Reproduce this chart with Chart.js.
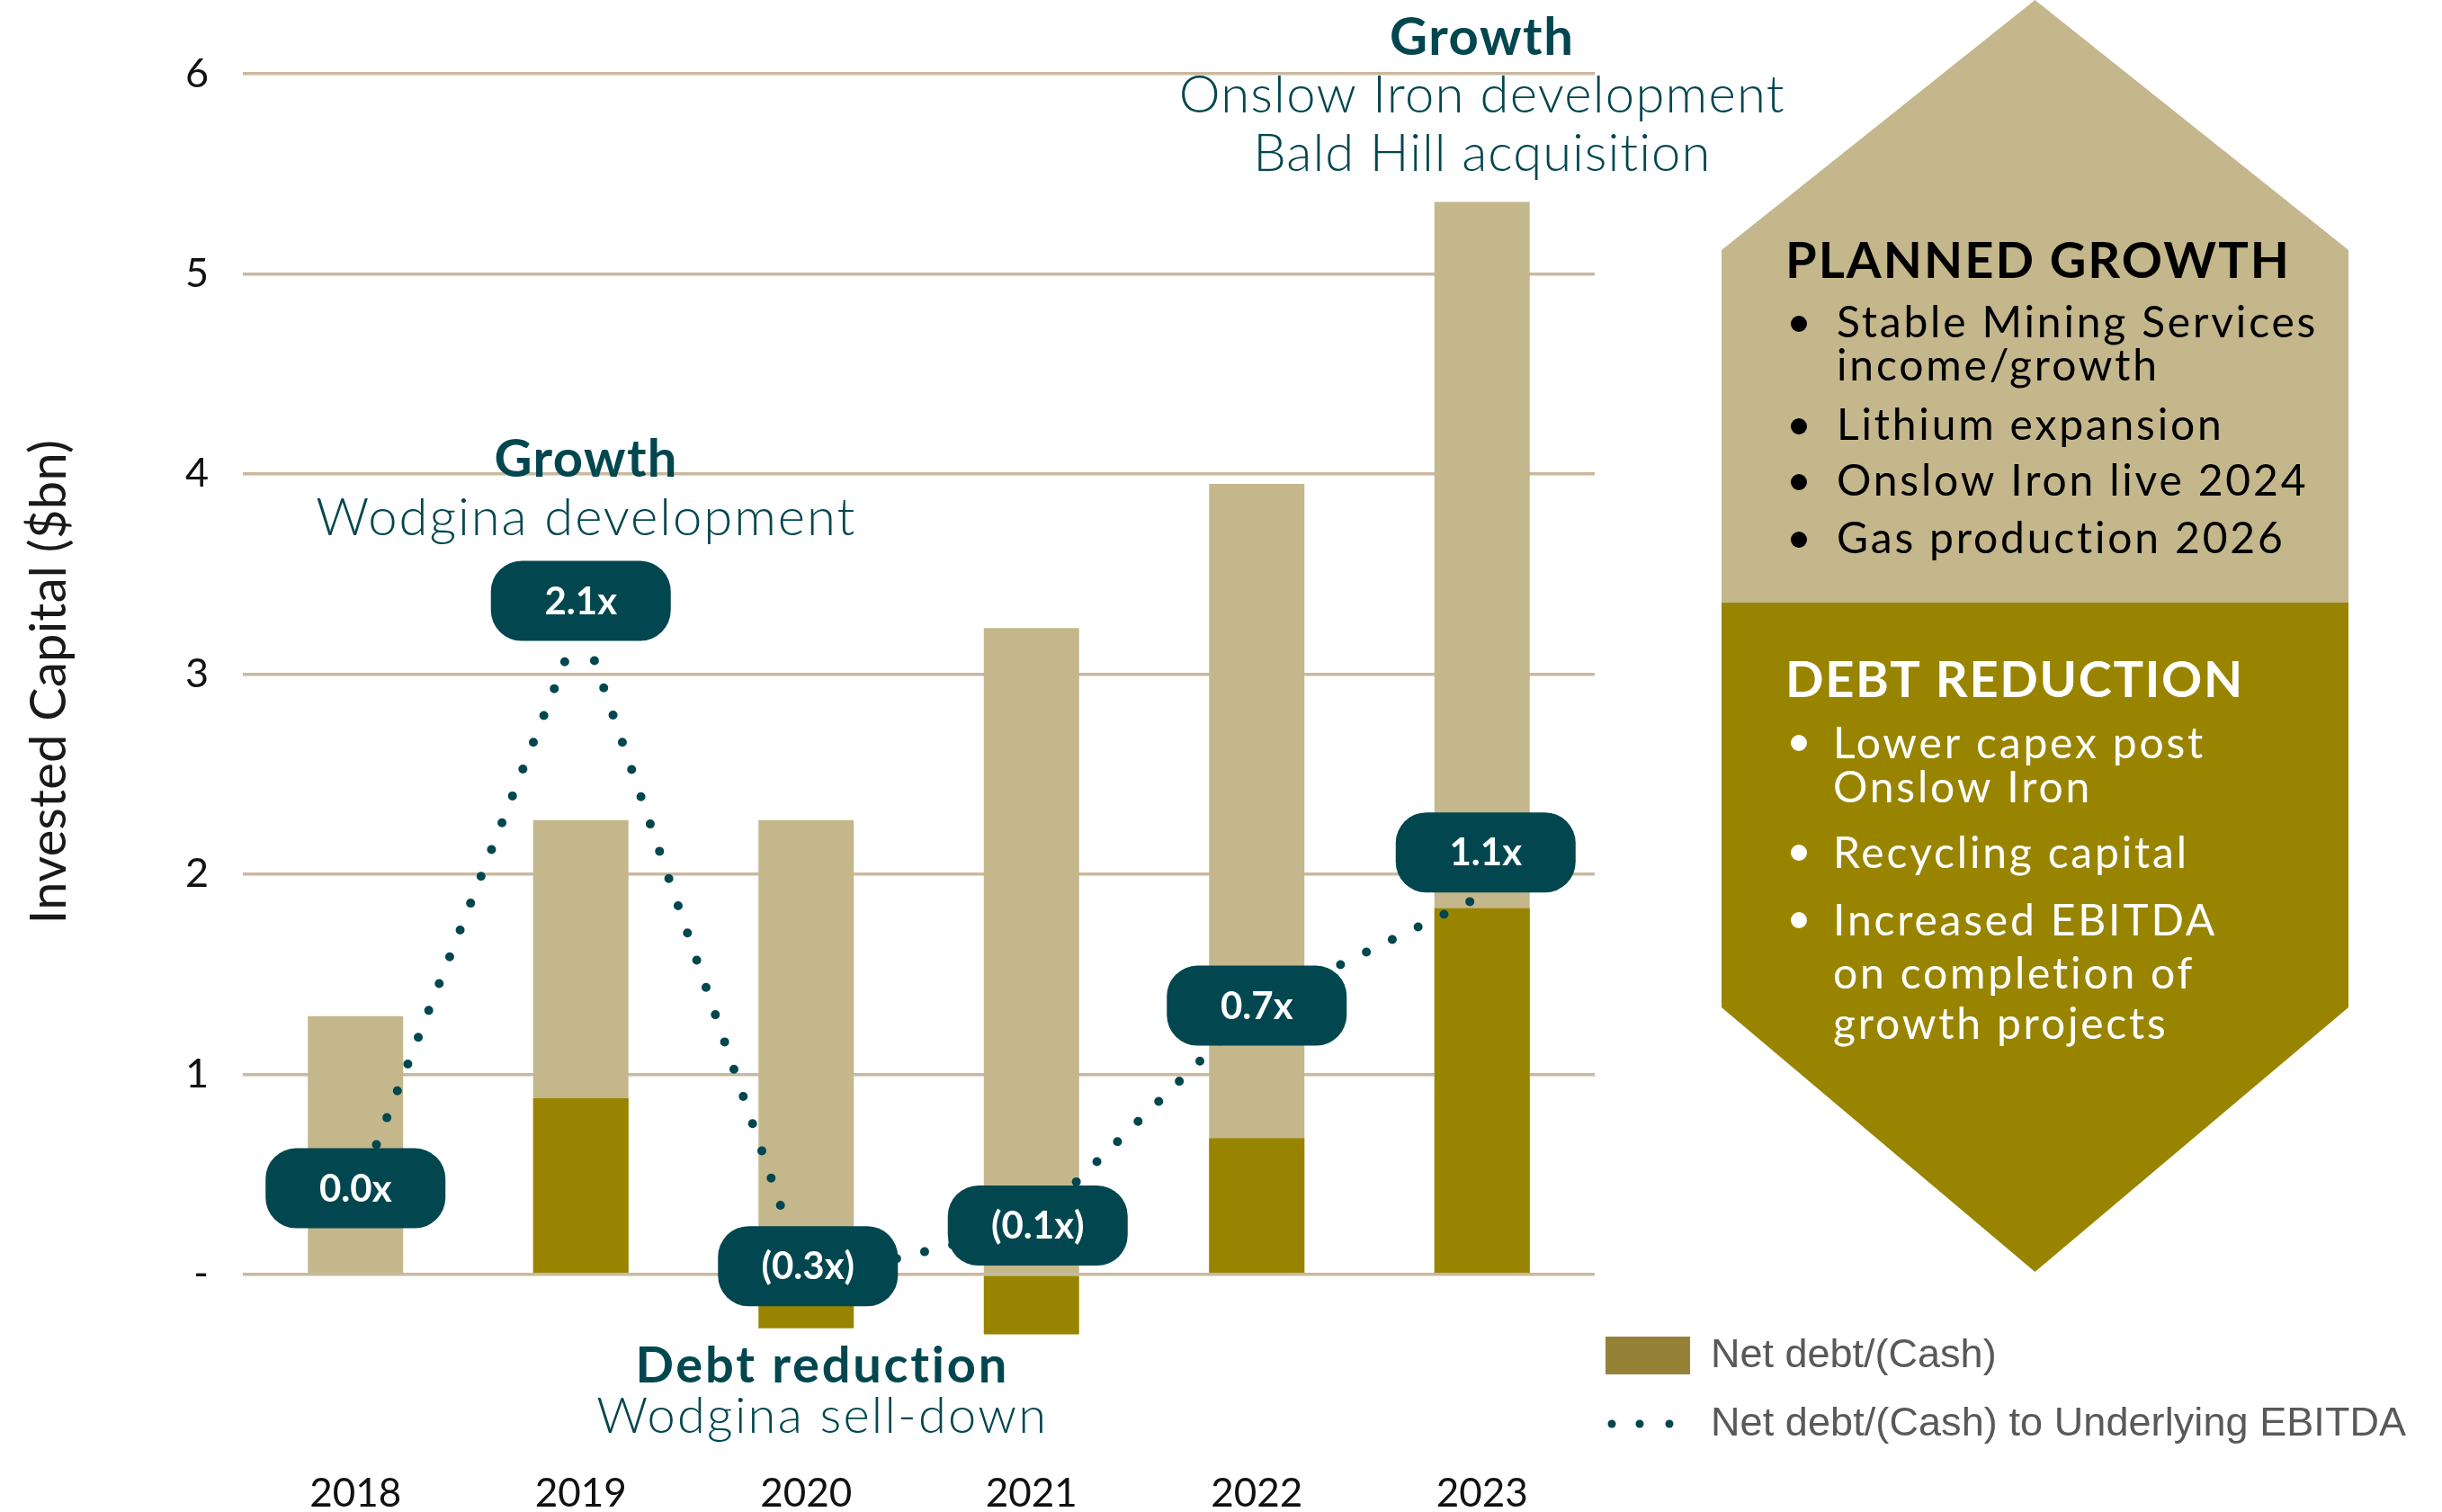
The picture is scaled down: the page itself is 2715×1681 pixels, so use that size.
<!DOCTYPE html>
<html>
<head>
<meta charset="utf-8">
<script src="https://cdn.jsdelivr.net/npm/chart.js@4.4.1/dist/chart.umd.min.js"></script>
<style>
  html, body { margin: 0; padding: 0; background: #fff; }
  #wrap { width: 2715px; height: 1681px; position: relative; }
</style>
</head>
<body>
<div id="wrap"><canvas id="chart"></canvas></div>
<script>
// data
const years = ["2018", "2019", "2020", "2021", "2022", "2023"];
const investedCapital = [1.29, 2.27, 2.27, 3.23, 3.95, 5.36];
const netDebt = [0, 0.88, -0.27, -0.30, 0.68, 1.83];
const leverage = [0.0, 2.1, -0.3, -0.1, 0.7, 1.1];
const leverageLabels = ["0.0x", "2.1x", "(0.3x)", "(0.1x)", "0.7x", "1.1x"];
const yTicks = [0, 1, 2, 3, 4, 5, 6];

const plannedGrowth = ["Stable Mining Services", "income/growth", "Lithium expansion", "Onslow Iron live 2024", "Gas production 2026"];
const debtReduction = ["Lower capex post", "Onslow Iron", "Recycling capital", "Increased EBITDA", "on completion of", "growth projects"];

const TEAL = "#02474f";
const LIGHT = "#c4b78b";
const DARK = "#998400";
const GRID = "#c9b99f";
const FONT = "Lato";

// label nudges (px) so boxes sit like the original
const labelShift = [[0, -11], [0, -22], [2, -16], [7, 0], [0, 0], [4, -48]];

// draw text; fit = target width in px (spreads letters) or spacing string
function txt(ctx, s, x, y, font, color, align, fit) {
  ctx.font = font;
  ctx.letterSpacing = "0px";
  if (typeof fit === "number") {
    const w = ctx.measureText(s).width;
    ctx.letterSpacing = ((fit - w) / Math.max(s.length - 1, 1)).toFixed(2) + "px";
  } else if (fit) {
    ctx.letterSpacing = fit;
  }
  ctx.fillStyle = color;
  ctx.textAlign = align || "center";
  ctx.textBaseline = "middle";
  ctx.fillText(s, x, y);
  ctx.letterSpacing = "0px";
}

const extras = {
  id: "extras",
  afterDatasetsDraw(chart) {
    const ctx = chart.ctx;
    const xs = chart.scales.x, ys = chart.scales.y, y2 = chart.scales.y2;
    ctx.save();

    // axis title
    ctx.save();
    ctx.translate(55, 758);
    ctx.rotate(-Math.PI / 2);
    txt(ctx, "Invested Capital ($bn)", 0, 0, "56px " + FONT, "#1a1a1a", "center", 538);
    ctx.restore();

    // ratio labels
    leverage.forEach((v, i) => {
      const cx = xs.getPixelForValue(i) + labelShift[i][0];
      const cy = y2.getPixelForValue(v) + labelShift[i][1];
      ctx.fillStyle = TEAL;
      ctx.beginPath();
      ctx.roundRect(cx - 100, cy - 44.5, 200, 89, 34);
      ctx.fill();
      txt(ctx, leverageLabels[i], cx, cy + 1, "bold 42px " + FONT, "#fff");
    });

    // annotations
    let cx = xs.getPixelForValue(1) + 6;
    txt(ctx, "Growth", cx, ys.getPixelForValue(4.07), "bold 58px " + FONT, TEAL, "center", 203);
    txt(ctx, "Wodgina development", cx, ys.getPixelForValue(3.78), "300 58px " + FONT, TEAL, "center", 599);
    cx = xs.getPixelForValue(5);
    txt(ctx, "Growth", cx, ys.getPixelForValue(6.18), "bold 58px " + FONT, TEAL, "center", 204);
    txt(ctx, "Onslow Iron development", cx, ys.getPixelForValue(5.89), "300 58px " + FONT, TEAL, "center", 673);
    txt(ctx, "Bald Hill acquisition", cx, ys.getPixelForValue(5.60), "300 58px " + FONT, TEAL, "center", 509);
    cx = xs.getPixelForValue(2) + 18;
    txt(ctx, "Debt reduction", cx, ys.getPixelForValue(-0.46), "bold 56px " + FONT, TEAL, "center", 414);
    txt(ctx, "Wodgina sell-down", cx, ys.getPixelForValue(-0.71), "300 56px " + FONT, TEAL, "center", 500);

    // house panel
    const L = 1914, R = 2611, M = (L + R) / 2;
    ctx.fillStyle = LIGHT;
    ctx.beginPath();
    ctx.moveTo(M, 0); ctx.lineTo(R, 278); ctx.lineTo(R, 670); ctx.lineTo(L, 670); ctx.lineTo(L, 278);
    ctx.closePath(); ctx.fill();
    ctx.fillStyle = DARK;
    ctx.beginPath();
    ctx.moveTo(L, 670); ctx.lineTo(R, 670); ctx.lineTo(R, 1120); ctx.lineTo(M, 1414); ctx.lineTo(L, 1120);
    ctx.closePath(); ctx.fill();

    txt(ctx, "PLANNED GROWTH", 1985, 291, "bold 56px " + FONT, "#000", "left", 560);
    const pgY = [360, 408, 474, 536, 600];
    plannedGrowth.forEach((s, i) => {
      if (i !== 1) { ctx.fillStyle = "#000"; ctx.beginPath(); ctx.arc(2000, pgY[i], 9, 0, Math.PI * 2); ctx.fill(); }
      txt(ctx, s, 2042, pgY[i], "48px " + FONT, "#000", "left", "2.8px");
    });
    txt(ctx, "DEBT REDUCTION", 1985, 757, "bold 56px " + FONT, "#fff", "left", 508);
    const drY = [828, 877, 950, 1025, 1084, 1140];
    debtReduction.forEach((s, i) => {
      if (i === 0 || i === 2 || i === 3) { ctx.fillStyle = "#fff"; ctx.beginPath(); ctx.arc(2000, drY[i] - 2, 9, 0, Math.PI * 2); ctx.fill(); }
      txt(ctx, s, 2038, drY[i], "48px " + FONT, "#fff", "left", "2.8px");
    });

    // legend
    ctx.fillStyle = "#968236";
    ctx.fillRect(1785, 1486, 94, 42);
    txt(ctx, "Net debt/(Cash)", 1902, 1508, "45px 'Liberation Sans'", "#595959", "left");
    ctx.fillStyle = TEAL;
    [1792, 1823, 1856].forEach(px => { ctx.beginPath(); ctx.arc(px, 1583, 4.5, 0, Math.PI * 2); ctx.fill(); });
    txt(ctx, "Net debt/(Cash) to Underlying EBITDA", 1902, 1584, "45px 'Liberation Sans'", "#595959", "left", 773);

    ctx.restore();
  }
};

new Chart(document.getElementById("chart"), {
  data: {
    labels: years,
    datasets: [
      {
        type: "line",
        label: "Net debt/(Cash) to Underlying EBITDA",
        data: leverage,
        yAxisID: "y2",
        borderColor: TEAL,
        borderWidth: 10,
        borderDash: [0, 32],
        borderCapStyle: "round",
        pointRadius: 0,
        fill: false,
        tension: 0,
        order: 0
      },
      {
        type: "bar",
        label: "Net debt/(Cash)",
        data: netDebt,
        backgroundColor: DARK,
        grouped: false,
        categoryPercentage: 1,
        barPercentage: 0.423,
        order: 1
      },
      {
        type: "bar",
        label: "Invested Capital",
        data: investedCapital,
        backgroundColor: LIGHT,
        grouped: false,
        categoryPercentage: 1,
        barPercentage: 0.423,
        order: 2
      }
    ]
  },
  options: {
    responsive: true,
    maintainAspectRatio: false,
    animation: false,
    layout: { padding: { top: 82, right: 942, left: 0, bottom: 0 } },
    plugins: { legend: { display: false }, tooltip: { enabled: false } },
    scales: {
      x: {
        grid: { display: false },
        border: { display: false },
        ticks: { color: "#111", font: { family: FONT, size: 44 }, padding: 98 },
        afterFit: s => { s.height = 153; }
      },
      y: {
        min: -0.5,
        max: 6,
        afterBuildTicks: s => { s.ticks = yTicks.map(v => ({ value: v })); },
        afterFit: s => { s.width = 270; },
        grid: { color: GRID, lineWidth: 3.5, drawTicks: false },
        border: { display: false },
        ticks: {
          color: "#111",
          font: { family: FONT, size: 45 },
          padding: 38,
          callback: v => (v === 0 ? "-" : v)
        }
      },
      y2: { display: false, min: -0.641, max: 4.089 }
    }
  },
  plugins: [extras]
});
</script>
</body>
</html>
